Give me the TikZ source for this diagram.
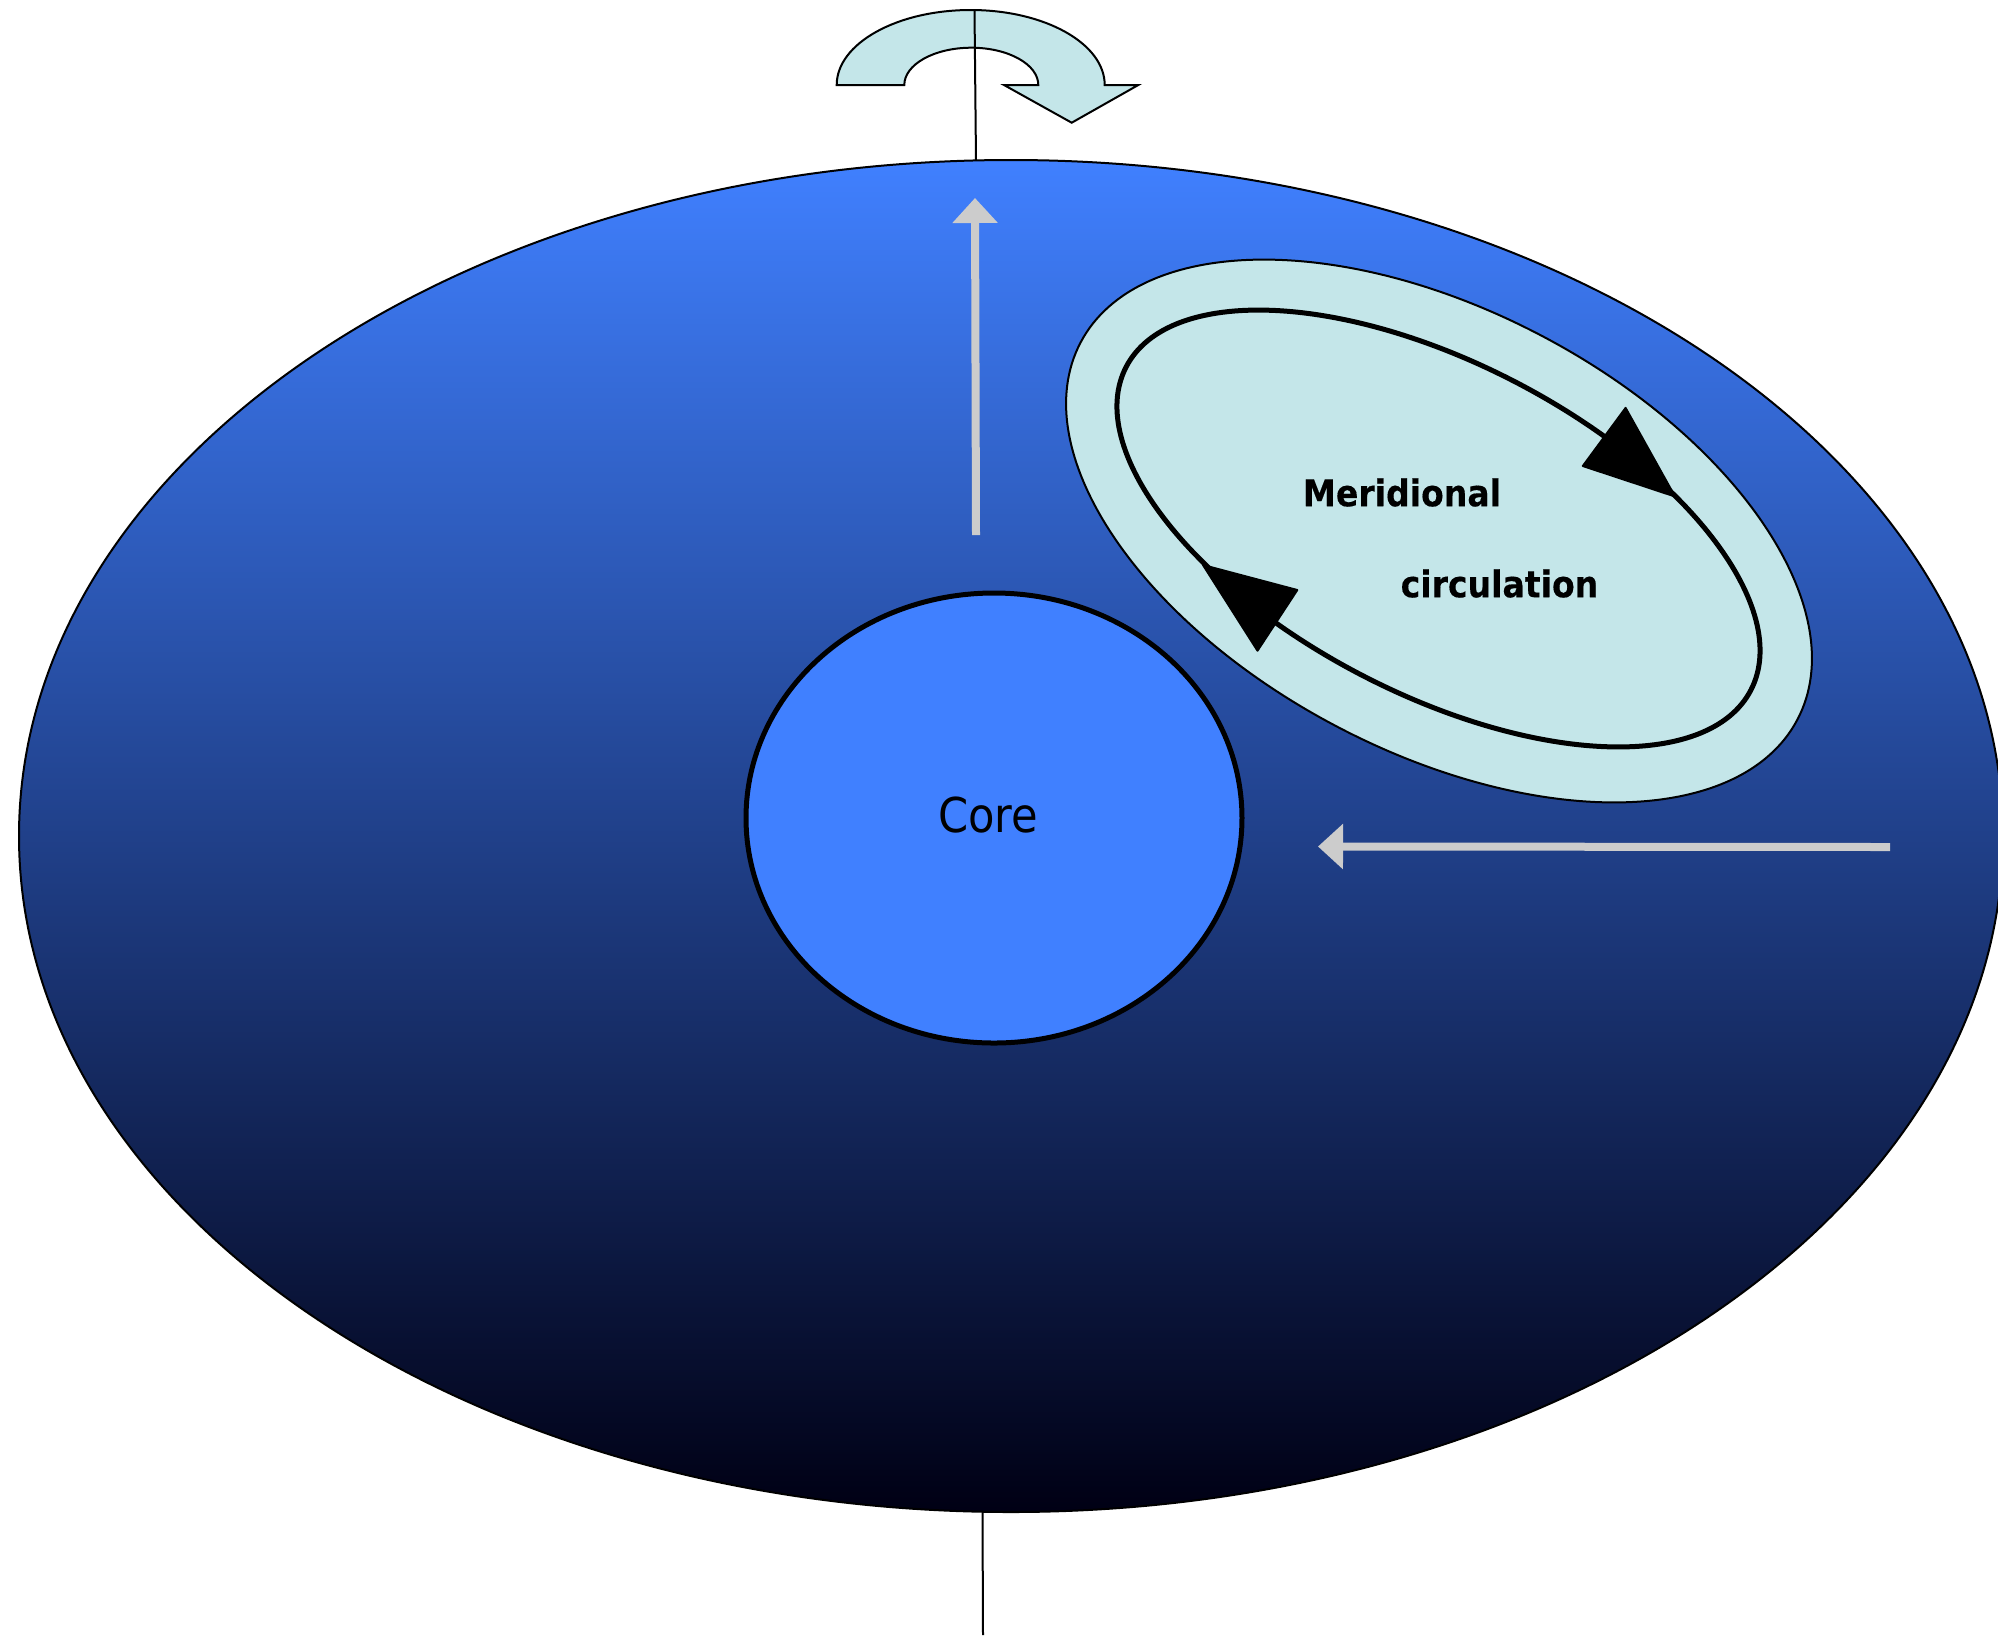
\documentclass[tikz,border=0pt]{standalone}
\usepackage{fontspec}
\setmainfont{DejaVu Sans}
\newfontfamily\labelfont{DejaVu Sans Condensed}
\newfontface\labelbold[FakeBold=0.3]{DejaVu Sans Condensed Bold}
\usetikzlibrary{arrows.meta}
\definecolor{paleflow}{HTML}{C4E6E9}
\definecolor{coreblue}{HTML}{4080FF}
\definecolor{flowgrey}{HTML}{CCCCCC}
\definecolor{deepblue}{RGB}{0,0,20}
\tikzset{
  px/.style={x=0.5pt,y=-0.5pt},
  thinline/.style={draw=black,line width=1pt},
  flowarrow/.style={draw=flowgrey,line width=4pt,-{Triangle[length=12.5pt,width=22pt]}},
  headtip/.style={fill=black,draw=black,line width=1pt,line join=round},
  boldlabel/.style={font=\labelbold\fontsize{18.4}{22}\selectfont,text=black,inner sep=0pt}
}
\begin{document}
\begin{tikzpicture}[px]
  \useasboundingbox (0,0) rectangle (1998,1635);
  \clip (0,0) rectangle (1998,1635);

  % rotation axis above and below the star
  \coordinate (axisTop) at (974.5,10);
  \coordinate (axisN) at (976,161);
  \coordinate (axisS) at (982.5,1512);
  \coordinate (axisEnd) at (983,1635);

  % spin arrow
  \draw[thinline,fill=paleflow,line join=miter]
    (836.7,85) arc[start angle=180,end angle=360,x radius=134,y radius=75]
    -- (1138.3,85) -- (1071.7,122.7) -- (1004,85) -- (1038.3,85)
    arc[start angle=360,end angle=180,x radius=67,y radius=37.3]
    -- cycle;
  \draw[thinline] (axisTop) -- (axisN);
  \draw[thinline] (axisS) -- (axisEnd);

  % stellar envelope with a vertical gradient
  \shade[draw=black,line width=1pt,top color=coreblue,bottom color=deepblue]
    (1011,836) ellipse[x radius=992,y radius=676];

  % convective core
  \draw[draw=black,line width=2.5pt,fill=coreblue]
    (994,818) ellipse[x radius=248,y radius=225];
  \node[inner sep=0pt,font=\labelfont\fontsize{24}{28}\selectfont] (core) at (988,815) {Core};

  % meridional circulation cell
  \begin{scope}[shift={(1439,531)},rotate=-27.75]
    \draw[thinline,fill=paleflow] (0,0) ellipse[x radius=405,y radius=220.6];
  \end{scope}
  \begin{scope}[shift={(1438.5,528.5)},rotate=-27.35]
    \draw[draw=black,line width=2.5pt] (0,0) ellipse[x radius=351.7,y radius=165.5];
  \end{scope}
  \path[headtip] (1675,496.5) -- (1625.6,407.9) -- (1582.8,466) -- cycle;
  \path[headtip] (1203,565) -- (1297.3,590) -- (1257.5,650.7) -- cycle;

  \node[boldlabel] (meridional) at (1402,492.5) {Meridional};
  \node[boldlabel] (circulation) at (1499.5,583.5) {circulation};

  % flow arrows inside the envelope
  \coordinate (upStart) at (976,535);
  \coordinate (upEnd) at (975,198);
  \coordinate (inStart) at (1890,847);
  \coordinate (inEnd) at (1318,846.5);
  \draw[flowarrow] (upStart) -- (upEnd);
  \draw[flowarrow] (inStart) -- (inEnd);
\end{tikzpicture}
\end{document}
